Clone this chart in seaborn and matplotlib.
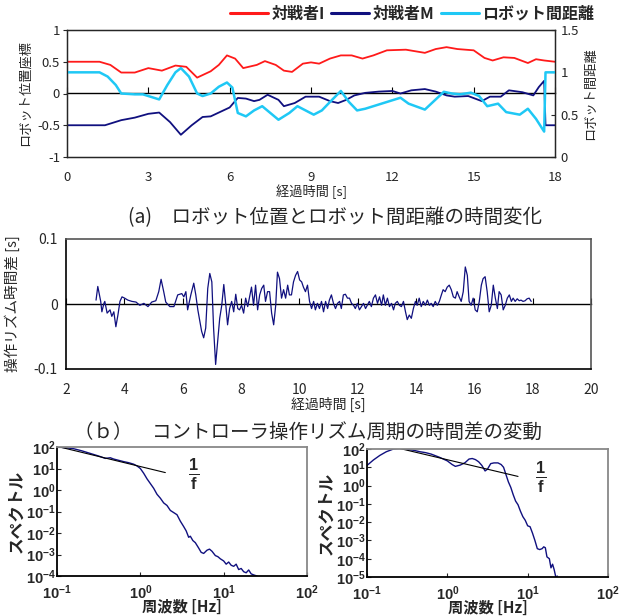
import numpy as np
import pandas as pd
import matplotlib
matplotlib.use('Agg')
import matplotlib.pyplot as plt
from matplotlib.lines import Line2D
from matplotlib import ticker
import seaborn as sns

# (a) ロボット位置とロボット間距離
t_i = [0, 1.2, 1.6, 2.0, 2.5, 3.0, 3.5, 4.0, 4.4, 4.8, 5.3, 5.6, 5.9, 6.2, 6.5, 7.0, 7.3, 7.7, 8.0, 8.3,
       8.7, 9.0, 9.3, 9.7, 10.1, 10.5, 10.9, 11.3, 11.8, 12.5, 13.2, 13.6, 14.0, 14.4, 15.0, 15.4, 15.7,
       16.1, 16.5, 17.0, 17.3, 17.6, 18.0]
pos_i = [0.5, 0.5, 0.45, 0.33, 0.33, 0.4, 0.36, 0.44, 0.42, 0.25, 0.35, 0.45, 0.6, 0.55, 0.4, 0.45, 0.51,
         0.45, 0.36, 0.34, 0.47, 0.49, 0.47, 0.55, 0.6, 0.6, 0.55, 0.6, 0.68, 0.69, 0.64, 0.7, 0.73, 0.7,
         0.68, 0.56, 0.52, 0.57, 0.56, 0.48, 0.54, 0.52, 0.5]
t_m = [0, 1.4, 2.0, 2.5, 3.0, 3.4, 3.8, 4.2, 4.6, 5.0, 5.3, 5.7, 6.0, 6.3, 6.6, 6.9, 7.1, 7.4, 7.8, 8.0,
       8.4, 8.8, 9.3, 9.7, 10.0, 10.3, 10.6, 11.0, 11.5, 12.0, 12.3, 12.7, 13.2, 13.6, 14.0, 14.3, 14.8,
       15.3, 15.6, 16.0, 16.3, 16.8, 17.2, 17.4, 17.6, 17.65, 18.0]
pos_m = [-0.5, -0.5, -0.42, -0.38, -0.32, -0.3, -0.45, -0.65, -0.5, -0.37, -0.36, -0.28, -0.22, -0.07,
         -0.08, -0.12, -0.1, -0.02, -0.1, -0.2, -0.15, -0.05, -0.05, -0.12, -0.15, -0.1, -0.03, 0.01, 0.03,
         0.04, 0.0, 0.05, 0.07, 0.03, -0.03, -0.05, -0.04, -0.12, -0.05, -0.05, 0.05, 0.02, -0.03, 0.1,
         0.2, -0.5, -0.5]
t_d = [0, 1.2, 1.5, 1.8, 2.0, 2.5, 2.8, 3.2, 3.4, 3.7, 4.0, 4.2, 4.5, 4.8, 5.0, 5.3, 5.6, 5.9, 6.1, 6.3,
       6.6, 6.9, 7.2, 7.5, 7.8, 8.2, 8.5, 8.8, 9.1, 9.4, 9.7, 10.1, 10.4, 10.7, 11.0, 11.5, 12.0, 12.3,
       12.6, 13.2, 13.5, 13.9, 14.2, 14.5, 14.9, 15.2, 15.5, 15.9, 16.2, 16.7, 17.0, 17.3, 17.6, 17.65, 18.0]
dist = [1.0, 1.0, 0.95, 0.85, 0.75, 0.74, 0.74, 0.7, 0.68, 0.85, 1.0, 1.05, 0.95, 0.75, 0.72, 0.75, 0.83,
        0.88, 0.82, 0.52, 0.48, 0.55, 0.6, 0.52, 0.44, 0.52, 0.6, 0.55, 0.5, 0.55, 0.65, 0.78, 0.65, 0.55,
        0.57, 0.62, 0.67, 0.7, 0.63, 0.56, 0.65, 0.77, 0.75, 0.74, 0.76, 0.72, 0.6, 0.63, 0.53, 0.5, 0.57,
        0.45, 0.3, 1.0, 1.0]

# (b上) 操作リズム時間差
mid_t = [3.03, 3.09, 3.19, 3.23, 3.30, 3.33, 3.41, 3.51, 3.57, 3.64, 3.71, 3.78, 3.85, 3.92, 4.01, 4.12,
         4.26, 4.40, 4.53, 4.67, 4.81, 4.94, 5.08, 5.18, 5.26, 5.35, 5.42, 5.56, 5.70, 5.83, 5.97, 6.04,
         6.11, 6.17, 6.28, 6.38, 6.45, 6.52, 6.59, 6.65, 6.72, 6.79, 6.86, 6.93, 7.00, 7.06, 7.13, 7.20,
         7.27, 7.34, 7.41, 7.48, 7.54, 7.61, 7.68, 7.75, 7.82, 7.89, 7.95, 8.02, 8.09, 8.16, 8.23, 8.36,
         8.43, 8.50, 8.57, 8.64, 8.71, 8.78, 8.84, 8.91, 8.98, 9.05, 9.12, 9.19, 9.25, 9.32, 9.39, 9.46,
         9.53, 9.60, 9.66, 9.73, 9.80, 9.87, 9.94, 10.01, 10.08, 10.14, 10.21, 10.28, 10.35, 10.42, 10.49,
         10.55, 10.62, 10.69, 10.76, 10.83, 10.90, 10.97, 11.03, 11.10, 11.17, 11.24, 11.31, 11.38, 11.44,
         11.51, 11.58, 11.65, 11.72, 11.79, 11.86, 11.92, 11.99, 12.06, 12.13, 12.20, 12.27, 12.33, 12.40,
         12.47, 12.54, 12.61, 12.68, 12.75, 12.82, 12.88, 12.95, 13.02, 13.09, 13.16, 13.23, 13.29, 13.36,
         13.43, 13.50, 13.57, 13.64, 13.70, 13.77, 13.84, 13.91, 13.98, 14.04, 14.11, 14.18, 14.25, 14.32,
         14.39, 14.46, 14.52, 14.59, 14.66, 14.73, 14.80, 14.87, 14.93, 15.00, 15.07, 15.14, 15.21, 15.28,
         15.35, 15.41, 15.48, 15.55, 15.62, 15.69, 15.76, 15.82, 15.89, 15.96, 16.03, 16.10, 16.17, 16.24,
         16.30, 16.37, 16.44, 16.51, 16.58, 16.65, 16.72, 16.79, 16.85, 16.92, 16.99, 17.06, 17.13, 17.20,
         17.27, 17.33, 17.40, 17.47, 17.54, 17.60, 17.67, 17.74, 17.81, 17.88, 17.95]
mid_v = [0.006, 0.027, 0.004, -0.012, 0.001, 0.004, -0.014, -0.009, -0.019, -0.012,
         -0.035, -0.017, 0.004, 0.011, 0.009, 0.006, 0.004, 0.003, -0.002, 0.001,
         -0.004, 0.003, 0.005, 0.019, 0.038, 0.019, 0.003, -0.004, -0.004, 0.014,
         0.016, 0.011, 0.019, -0.009, 0.014, 0.032, 0.014, -0.009, -0.027, -0.042,
         -0.052, -0.037, 0.024, 0.047, 0.034, -0.037, -0.093, -0.058, -0.022, -0.002,
         0.030, -0.002, -0.032, -0.007, 0.004, -0.012, 0.015, -0.007, -0.009, -0.002,
         -0.014, 0.009, -0.004, 0.026, -0.002, 0.029, -0.009, 0.014, 0.024, 0.029,
         0.004, 0.019, 0.019, -0.014, -0.032, -0.002, 0.049, 0.039, 0.009, 0.022,
         0.009, 0.029, 0.014, 0.014, 0.034, 0.044, 0.050, 0.037, 0.034, 0.026,
         0.019, 0.029, 0.004, -0.007, 0.004, -0.009, 0.001, -0.007, 0.004, -0.012,
         0.004, -0.007, 0.006, 0.014, 0.001, -0.007, 0.001, 0.004, -0.007, 0.014,
         0.015, 0.009, 0.009, 0.001, -0.002, -0.007, 0.001, -0.009, -0.004, 0.001,
         -0.007, -0.002, 0.004, -0.004, 0.009, 0.014, 0.001, 0.011, -0.002, 0.014,
         -0.002, 0.009, -0.004, 0.001, -0.009, 0.001, 0.004, -0.002, -0.004, 0.004,
         -0.012, -0.024, -0.017, -0.022, -0.007, 0.004, -0.002, 0.009, -0.004, 0.004,
         -0.002, 0.006, -0.002, 0.001, -0.004, 0.004, -0.002, 0.004, 0.014, 0.022,
         0.019, 0.026, 0.029, 0.022, 0.011, 0.009, 0.019, 0.011, 0.004, 0.019,
         0.057, 0.044, 0.004, -0.002, 0.009, -0.009, -0.012, 0.004, 0.029, 0.039,
         0.042, 0.019, -0.012, -0.002, 0.029, 0.009, -0.007, 0.019, 0.014, -0.009,
         -0.002, 0.009, 0.014, 0.004, 0.009, 0.004, 0.008, 0.005, 0.006, 0.004,
         0.005, 0.008, 0.009, 0.004]

# スペクトル (log10 の値)
lf1 = [-1.0, -0.9, -0.8, -0.7, -0.6, -0.5, -0.42, -0.36, -0.32, -0.26, -0.2, -0.14, -0.08, -0.04, 0.0,
       0.04, 0.08, 0.12, 0.16, 0.2, 0.24, 0.28, 0.32, 0.36, 0.40, 0.44, 0.48, 0.52, 0.55, 0.58, 0.60, 0.63,
       0.66, 0.70, 0.73, 0.76, 0.80, 0.83, 0.86, 0.90, 0.93, 0.96, 1.00, 1.03, 1.06, 1.09, 1.12, 1.15,
       1.18, 1.21, 1.24, 1.27, 1.30, 1.33, 1.36, 1.40]
ls1 = [2.0, 1.97, 1.92, 1.82, 1.7, 1.58, 1.47, 1.5, 1.44, 1.38, 1.32, 1.27, 1.2, 1.12, 1.0,
       0.78, 0.52, 0.3, 0.08, -0.2, -0.38, -0.6, -0.72, -0.95, -1.05, -1.15, -1.45, -1.7, -1.9, -2.2,
       -2.15, -2.35, -2.45, -2.7, -2.9, -2.95, -2.8, -2.75, -2.85, -3.05, -3.1, -3.2, -3.3, -3.45, -3.35,
       -3.5, -3.55, -3.45, -3.7, -3.65, -3.8, -3.85, -3.72, -3.9, -3.95, -4.0]
lf2 = [-1.0, -0.92, -0.84, -0.76, -0.67, -0.59, -0.5, -0.42, -0.34, -0.27, -0.2, -0.1, 0.0, 0.06, 0.1,
       0.16, 0.22, 0.27, 0.31, 0.35, 0.39, 0.43, 0.47, 0.5, 0.54, 0.58, 0.63, 0.67, 0.70, 0.73, 0.76,
       0.79, 0.82, 0.85, 0.88, 0.91, 0.94, 0.97, 1.0, 1.03, 1.06, 1.09, 1.12, 1.15, 1.18, 1.2, 1.22, 1.24,
       1.27, 1.29, 1.31, 1.33, 1.35, 1.37]
ls2 = [1.1, 1.4, 1.65, 1.85, 2.0, 2.03, 1.98, 1.93, 1.85, 1.8, 1.72, 1.55, 1.35, 1.15, 1.05,
       1.12, 1.25, 1.45, 1.48, 1.42, 1.3, 1.1, 0.8, 0.9, 1.2, 1.24, 1.24, 1.15, 1.0, 0.6, 0.2,
       -0.1, -0.5, -0.85, -1.05, -1.4, -1.7, -1.9, -2.2, -2.25, -2.6, -3.0, -3.45, -3.5, -3.45, -3.35,
       -3.4, -3.9, -4.0, -4.5, -4.3, -4.6, -5.0, -4.95]
fit1_lf = [-1.0, 0.3]
fit1_ls = [2.03, 0.81]
fit2_lf = [-0.71, 0.88]
fit2_ls = [2.15, 0.5]

RED = '#ff1a1a'
NAVY = '#10107f'
CYAN = '#1fc8f5'

sns.set_style('white')
plt.rcParams['font.family'] = ['Noto Sans CJK JP', 'DejaVu Sans']
plt.rcParams['mathtext.fontset'] = 'custom'
plt.rcParams['mathtext.rm'] = 'Liberation Sans'
plt.rcParams['mathtext.bf'] = 'Liberation Sans:bold'
plt.rcParams['axes.unicode_minus'] = False

W, H = 623, 616
fig = plt.figure(figsize=(W / 100, H / 100), dpi=100)


def box(l, t, r, b):
    return [l / W, 1 - b / H, (r - l) / W, (b - t) / H]


def zero_line(ax, ticks):
    # x軸を0の位置にも引く（目盛りは上向き）
    z = ax.secondary_xaxis(0.5)
    z.set_xticks(ticks)
    z.xaxis.set_major_formatter(ticker.NullFormatter())
    z.tick_params(axis='x', direction='out', length=4, color='black', labeltop=False, labelbottom=False)
    for s in z.spines.values():
        s.set_color('black')
        s.set_linewidth(1.0)


# ---------- (a) ----------
ax1 = fig.add_axes(box(67, 30, 555, 157))
sns.lineplot(x=t_i, y=pos_i, ax=ax1, color=RED, lw=1.3, estimator=None, sort=False)
sns.lineplot(x=t_m, y=pos_m, ax=ax1, color=NAVY, lw=1.3, estimator=None, sort=False)
ax1.set_xlim(0, 18)
ax1.set_ylim(-1, 1)
ax1.set_xticks(range(0, 19, 3))
ax1.set_xticklabels([str(v) for v in range(0, 19, 3)], fontsize=9.5)
ax1.set_yticks([-1, -0.5, 0, 0.5, 1])
ax1.set_yticklabels(['-1', '-0.5', '0', '0.5', '1'], fontsize=9.5)
ax1.tick_params(axis='x', length=0, pad=10)
ax1.tick_params(axis='y', direction='out', length=3, pad=2, left=True)
ax1.set_xlabel('経過時間 [s]', fontsize=9.5, labelpad=0)
ax1.set_ylabel('ロボット位置座標', fontsize=9.5, labelpad=4)
for s in ax1.spines.values():
    s.set_color('#222222')
    s.set_linewidth(1.0)
zero_line(ax1, range(0, 19, 3))

ax1r = ax1.twinx()
sns.lineplot(x=t_d, y=dist, ax=ax1r, color=CYAN, lw=1.8, estimator=None, sort=False)
ax1r.set_ylim(0, 1.5)
ax1r.set_yticks([0, 0.5, 1, 1.5])
ax1r.set_yticklabels(['0', '0.5', '1', '1.5'], fontsize=9.5)
ax1r.tick_params(axis='y', direction='in', length=3, pad=4, right=True)
ax1r.set_ylabel('ロボット間距離', fontsize=9.5, labelpad=4)
ax1r.grid(False)

handles = [Line2D([], [], color=RED, lw=2.2), Line2D([], [], color=NAVY, lw=2.2), Line2D([], [], color=CYAN, lw=2.2)]
fig.legend(handles, ['対戦者I', '対戦者M', 'ロボット間距離'], loc='center', bbox_to_anchor=(412 / W, 1 - 14 / H),
           ncol=3, frameon=False, prop={'weight': 'bold', 'size': 11.5}, handlelength=2.4,
           handletextpad=0.2, columnspacing=0.4)

fig.text(335 / W, 1 - 218 / H, '(a)　ロボット位置とロボット間距離の時間変化', ha='center', va='center', fontsize=14)

# ---------- 時間差 ----------
ax2 = fig.add_axes(box(66, 239, 591, 369))
sns.lineplot(x=mid_t, y=mid_v, ax=ax2, color=NAVY, lw=0.9, estimator=None, sort=False)
ax2.set_xlim(2, 20)
ax2.set_ylim(-0.1, 0.1)
ax2.set_xticks(range(2, 21, 2))
ax2.set_xticklabels([str(v) for v in range(2, 21, 2)], fontsize=10)
ax2.set_yticks([-0.1, 0, 0.1])
ax2.set_yticklabels(['-0.1', '0', '0.1'], fontsize=10)
ax2.tick_params(axis='x', length=0, pad=10)
ax2.tick_params(axis='y', length=0, pad=6)
ax2.set_xlabel('経過時間 [s]', fontsize=10, labelpad=0)
ax2.set_ylabel('操作リズム時間差 [s]', fontsize=10.5, labelpad=10)
for k, s in ax2.spines.items():
    s.set_linewidth(1.2)
    s.set_color('black' if k in ('left', 'bottom') else '#555555')
zero_line(ax2, range(2, 21, 2))

fig.text(308 / W, 1 - 432 / H, '（ｂ）　コントローラ操作リズム周期の時間差の変動', ha='center', va='center', fontsize=14)


# ---------- スペクトル ----------
def spectrum(ax, lf, ls, flf, fls, ylo, txt_xy):
    sns.lineplot(x=10 ** np.array(lf), y=10 ** np.array(ls), ax=ax, color=NAVY, lw=1.0,
                 estimator=None, sort=False)
    sns.lineplot(x=10 ** np.array(flf), y=10 ** np.array(fls), ax=ax, color='black', lw=0.8,
                 estimator=None, sort=False)
    ax.set_xscale('log')
    ax.set_yscale('log')
    ax.set_xlim(0.1, 100)
    ax.set_ylim(10.0 ** ylo, 100)
    ax.xaxis.set_major_locator(ticker.FixedLocator([0.1, 1, 10, 100]))
    ax.yaxis.set_major_locator(ticker.FixedLocator([10.0 ** e for e in range(ylo, 3)]))
    ax.xaxis.set_minor_locator(ticker.NullLocator())
    ax.yaxis.set_minor_locator(ticker.NullLocator())
    fmt = ticker.FuncFormatter(lambda v, p: r'$\mathbf{10^{%d}}$' % round(np.log10(v)))
    ax.xaxis.set_major_formatter(fmt)
    ax.yaxis.set_major_formatter(fmt)
    ax.tick_params(axis='both', direction='in', length=3, labelsize=10.5, bottom=True, left=True)
    ax.tick_params(axis='x', pad=5)
    ax.tick_params(axis='y', pad=1)
    ax.set_xlabel('周波数 [Hz]', fontsize=11, fontweight='bold', labelpad=-2)
    ax.set_ylabel('スペクトル', fontsize=12, fontweight='bold', labelpad=0)
    for k, s in ax.spines.items():
        s.set_linewidth(1.3)
        s.set_color('black' if k in ('left', 'bottom') else '#888888')
    ax.text(10 ** txt_xy[0], 10 ** txt_xy[1], r'$\mathbf{\frac{1}{f}}$', fontsize=17,
            ha='center', va='center')


ax3 = fig.add_axes(box(57, 447, 307, 576))
spectrum(ax3, lf1, ls1, fit1_lf, fit1_ls, -4, (0.64, 0.7))
ax4 = fig.add_axes(box(367, 449, 608, 577))
spectrum(ax4, lf2, ls2, fit2_lf, fit2_ls, -5, (1.16, 0.41))

fig.savefig('out.png', dpi=100)
